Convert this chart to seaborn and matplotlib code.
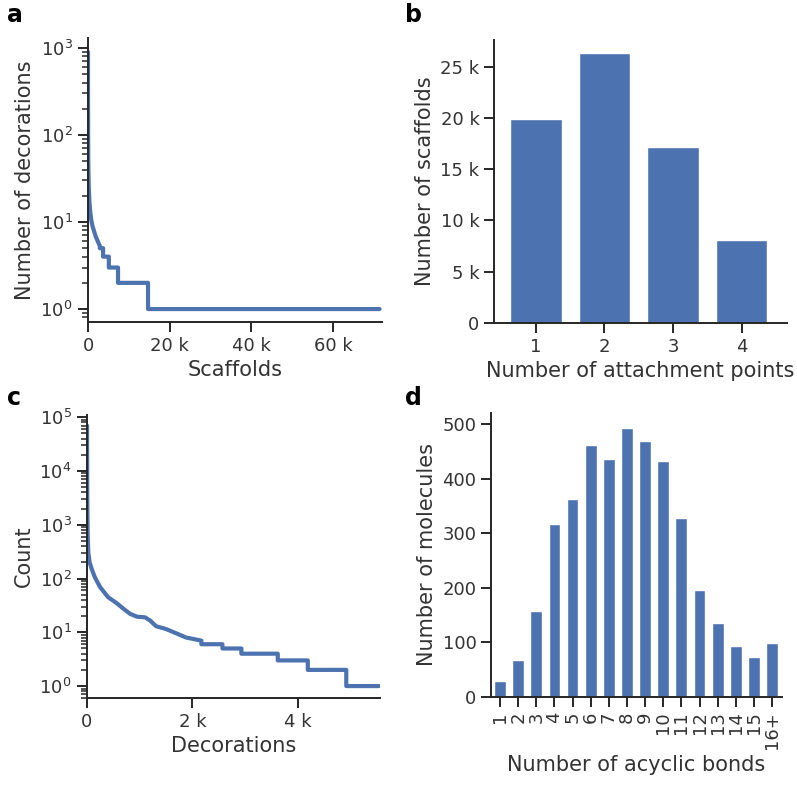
import matplotlib
matplotlib.use("Agg")
import matplotlib.pyplot as plt
import matplotlib.ticker as mticker
import seaborn as sns
import numpy as np
import pandas as pd

# ---- data ----
# panel a: scaffolds ranked by number of decorations (curve vertices; repeated x = step drop)
scaffold_rank = [0, 10, 30, 60, 100, 200, 350, 550, 800, 1100, 1500, 1900, 2400, 2900,
                 2900, 3700, 3700, 5100, 5100, 7350, 7350, 14700, 14700, 71400]
decorations_per_scaffold = [900, 250, 100, 55, 38, 24, 17, 13, 10.5, 9, 7.8, 6.8, 6, 5.3,
                            5, 5, 4, 4, 3, 3, 2, 2, 1, 1]

# panel b: scaffolds by number of attachment points
attachment_points = ["1", "2", "3", "4"]
n_scaffolds = [19900, 26300, 17200, 8050]

# panel c: decorations ranked by count (curve vertices; repeated x = step drop)
decoration_rank = [0, 5, 12, 25, 50, 90, 150, 250, 400, 560, 700, 820, 950, 1100, 1200, 1310,
                   1500, 1690, 1880, 2170, 2170, 2570, 2570, 2930, 2930, 3620, 3620, 4190,
                   4190, 4920, 4920, 5540]
count_per_decoration = [70000, 3000, 700, 300, 200, 150, 105, 69, 45, 35, 27, 22, 19.5, 19, 16.5,
                        13, 11.5, 9.6, 8, 7, 6, 6, 5, 5, 4, 4, 3, 3, 2, 2, 1, 1]

# panel d: molecules by number of acyclic bonds
acyclic_bonds = ["1", "2", "3", "4", "5", "6", "7", "8", "9", "10", "11", "12", "13", "14", "15", "16+"]
n_molecules = [29, 67, 157, 317, 362, 461, 436, 493, 468, 433, 327, 196, 135, 93, 73, 99]

# ---- style ----
sns.set_theme(style="ticks")
plt.rcParams["font.family"] = ["DejaVu Sans"]
plt.rcParams.update({
    "axes.edgecolor": ".15",
    "axes.linewidth": 1.4,
    "xtick.major.width": 1.4,
    "ytick.major.width": 1.4,
    "xtick.minor.width": 1.1,
    "ytick.minor.width": 1.1,
    "xtick.major.size": 7,
    "ytick.major.size": 7,
    "xtick.minor.size": 4.5,
    "ytick.minor.size": 4.5,
    "xtick.labelsize": 13,
    "ytick.labelsize": 13,
    "axes.labelsize": 15,
    "text.color": ".2",
    "axes.labelcolor": ".2",
    "xtick.color": ".15",
    "ytick.color": ".15",
    "xtick.labelcolor": ".2",
    "ytick.labelcolor": ".2",
})

blue = "#4C72B0"
fig = plt.figure(figsize=(7.97, 7.89), dpi=100)

def add_ax(l, r, t, b):
    W, H = 797, 789
    return fig.add_axes([l / W, 1 - b / H, (r - l) / W, (b - t) / H])

ax_a = add_ax(88, 382, 38, 322)
ax_b = add_ax(494, 787, 40, 323)
ax_c = add_ax(87, 380, 415, 698)
ax_d = add_ax(491, 782, 413, 697)

eng = mticker.EngFormatter(sep=" ")

def log_minor(ax):
    ax.yaxis.set_major_locator(mticker.LogLocator(base=10, numticks=20))
    ax.yaxis.set_minor_locator(mticker.LogLocator(base=10, subs=np.arange(2, 10), numticks=200))
    ax.yaxis.set_minor_formatter(mticker.NullFormatter())
    ax.tick_params(axis="y", which="minor", left=True, length=4.5, width=1.1, color=".15")
    ax.tick_params(axis="y", which="major", left=True, length=7.5, width=1.4, color=".15")

# panel a
df_a = pd.DataFrame({"Scaffolds": scaffold_rank, "Number of decorations": decorations_per_scaffold})
sns.lineplot(data=df_a, x="Scaffolds", y="Number of decorations", ax=ax_a, color=blue,
             linewidth=3, estimator=None, sort=False)
ax_a.set_yscale("log")
ax_a.set_ylim(0.71, 1300)
ax_a.set_xlim(0, 72000)
ax_a.set_xticks([0, 20000, 40000, 60000])
ax_a.xaxis.set_major_formatter(eng)
log_minor(ax_a)

# panel b
df_b = pd.DataFrame({"points": attachment_points, "n": n_scaffolds})
sns.barplot(data=df_b, x="points", y="n", ax=ax_b, color=blue, saturation=1, width=0.75)
ax_b.set_xlim(-0.61, 3.66)
ax_b.set_ylim(0, 27600)
ax_b.set_yticks([0, 5000, 10000, 15000, 20000, 25000])
ax_b.yaxis.set_major_formatter(eng)
ax_b.set_xlabel("Number of attachment points")
ax_b.set_ylabel("Number of scaffolds")

# panel c
df_c = pd.DataFrame({"Decorations": decoration_rank, "Count": count_per_decoration})
sns.lineplot(data=df_c, x="Decorations", y="Count", ax=ax_c, color=blue,
             linewidth=3, estimator=None, sort=False)
ax_c.set_yscale("log")
ax_c.set_ylim(0.6, 1.1e5)
ax_c.set_xlim(0, 5560)
ax_c.set_xticks([0, 2000, 4000])
ax_c.xaxis.set_major_formatter(eng)
log_minor(ax_c)

# panel d
df_d = pd.DataFrame({"bonds": acyclic_bonds, "n": n_molecules})
sns.barplot(data=df_d, x="bonds", y="n", ax=ax_d, color=blue, saturation=1, width=0.65)
ax_d.set_xlim(-0.5, 15.55)
ax_d.set_ylim(0, 520)
ax_d.set_yticks([0, 100, 200, 300, 400, 500])
ax_d.tick_params(axis="x", labelrotation=90)
ax_d.set_xlabel("Number of acyclic bonds")
ax_d.set_ylabel("Number of molecules")

for ax in (ax_a, ax_b, ax_c, ax_d):
    sns.despine(ax=ax)

for lbl, (x, y) in zip("abcd", [(7, 22), (405, 22), (7, 405), (405, 405)]):
    fig.text(x / 797, 1 - y / 789, lbl, fontsize=17, fontweight="bold", color="black",
             ha="left", va="baseline")

fig.canvas.draw()
n_minor = len(ax_a.yaxis.get_minorticklocs())
if n_minor == 0:
    raise RuntimeError("no minor ticks on panel a")

fig.savefig("out.png", dpi=100)
